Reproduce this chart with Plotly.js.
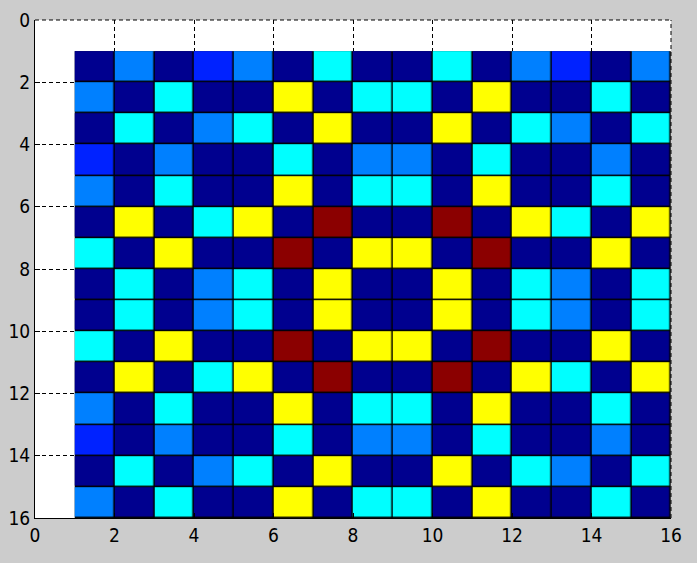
<!DOCTYPE html>
<html>
<head>
<meta charset="utf-8">
<script src="https://cdn.plot.ly/plotly-3.0.1.min.js"></script>
<style>
html,body{margin:0;padding:0;background:#cccccc;}
#chart{width:697px;height:563px;}
</style>
</head>
<body>
<div id="chart"></div>
<script>
// Cell edges (pcolor-style grid, 15 x 15 cells)
const colEdges = [1,2,3,4,5,6,7,8,9,10,11,12,13,14,15,16];
const rowEdges = [1,2,3,4,5,6,7,8,9,10,11,12,13,14,15,16];

// Colour classes: 0 = dark navy, 1 = blue, 2 = light blue, 3 = cyan, 4 = yellow, 5 = dark red
const row1  = [0,2,0,1,2,0,3,0,0,3,0,2,1,0,2];
const row2  = [2,0,3,0,0,4,0,3,3,0,4,0,0,3,0];
const row3  = [0,3,0,2,3,0,4,0,0,4,0,3,2,0,3];
const row4  = [1,0,2,0,0,3,0,2,2,0,3,0,0,2,0];
const row5  = [2,0,3,0,0,4,0,3,3,0,4,0,0,3,0];
const row6  = [0,4,0,3,4,0,5,0,0,5,0,4,3,0,4];
const row7  = [3,0,4,0,0,5,0,4,4,0,5,0,0,4,0];
const row8  = [0,3,0,2,3,0,4,0,0,4,0,3,2,0,3];
const row9  = [0,3,0,2,3,0,4,0,0,4,0,3,2,0,3];
const row10 = [3,0,4,0,0,5,0,4,4,0,5,0,0,4,0];
const row11 = [0,4,0,3,4,0,5,0,0,5,0,4,3,0,4];
const row12 = [2,0,3,0,0,4,0,3,3,0,4,0,0,3,0];
const row13 = [1,0,2,0,0,3,0,2,2,0,3,0,0,2,0];
const row14 = [0,3,0,2,3,0,4,0,0,4,0,3,2,0,3];
const row15 = [2,0,3,0,0,4,0,3,3,0,4,0,0,3,0];
const zRows = [row1,row2,row3,row4,row5,row6,row7,row8,row9,row10,row11,row12,row13,row14,row15];

const classColors = ['#00008f','#0022ff','#0080ff','#00ffff','#ffff00','#8b0000'];
const tickVals = [0,2,4,6,8,10,12,14,16];

// discrete colorscale built from class colours
const nC = classColors.length;
const cscale = [];
classColors.forEach((c,i)=>{ cscale.push([i/nC,c]); cscale.push([(i+1)/nC,c]); });

const bgZ = zRows.map(r=>r.map(()=>0));

const traces = [
  {type:'heatmap', x:colEdges, y:rowEdges, z:bgZ,
   colorscale:[[0,'#000000'],[1,'#000000']], showscale:false, hoverinfo:'skip'},
  {type:'heatmap', x:colEdges, y:rowEdges, z:zRows,
   zmin:-0.5, zmax:nC-0.5, colorscale:cscale, showscale:false,
   xgap:1.5, ygap:1.5}
];

const font = {family:'"Liberation Sans Narrow","DejaVu Sans Condensed","DejaVu Sans",sans-serif',
              size:19, color:'#000', stretch:'condensed'};
const dash = '4px,3px';
const axisCommon = {
  tickvals:tickVals, ticktext:tickVals.map(String),
  showgrid:true, gridcolor:'#000000', gridwidth:1, griddash:dash,
  showline:true, linecolor:'#000000', linewidth:1,
  ticks:'inside', ticklen:5, tickcolor:'#000000', tickwidth:1,
  zeroline:false, mirror:false, tickfont:font, fixedrange:true
};

const layout = {
  width:697, height:563,
  paper_bgcolor:'#cccccc', plot_bgcolor:'#ffffff',
  margin:{l:35, r:26, t:20, b:45, pad:0},
  showlegend:false,
  xaxis:Object.assign({}, axisCommon, {range:[0,16]}),
  yaxis:Object.assign({}, axisCommon, {range:[16,0]}),
  font:font,
  // dashed top and right box edges (grid lines at the axis limits)
  shapes:[
    {type:'line', xref:'paper', yref:'paper', x0:0, x1:1, y0:1, y1:1, layer:'below',
     line:{color:'#000000', width:1, dash:dash}},
    {type:'line', xref:'paper', yref:'paper', x0:1, x1:1, y0:0, y1:1, layer:'below',
     line:{color:'#000000', width:1, dash:dash}}
  ]
};

Plotly.newPlot('chart', traces, layout, {displayModeBar:false, staticPlot:true});
</script>
</body>
</html>
